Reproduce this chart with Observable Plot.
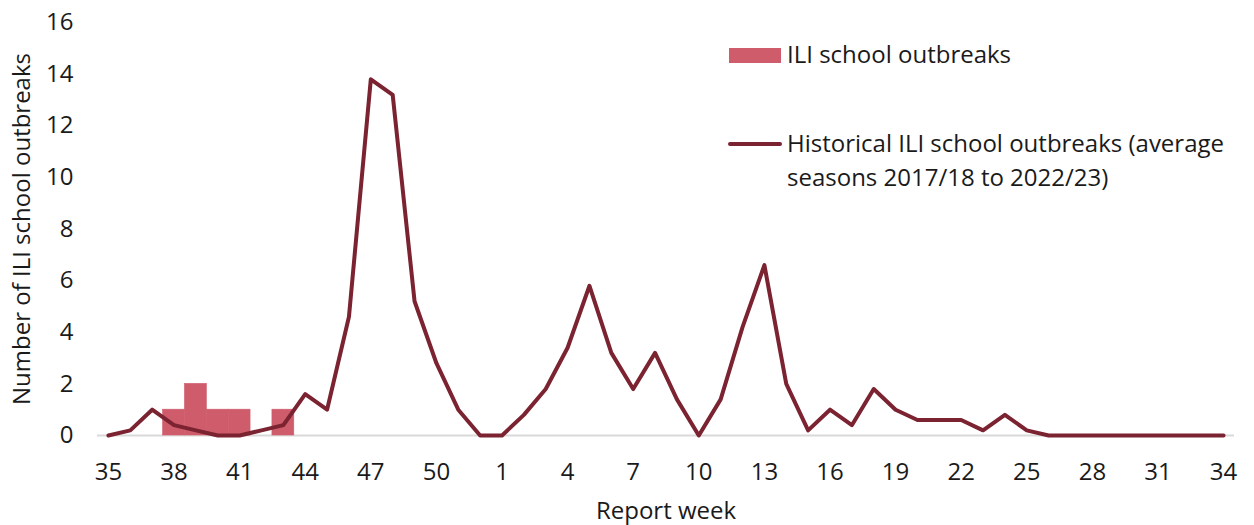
<!DOCTYPE html>
<html><head><meta charset="utf-8">
<script src="https://cdn.jsdelivr.net/npm/d3@7"></script>
<script src="https://cdn.jsdelivr.net/npm/@observablehq/plot@0.6"></script>
<style>
body{margin:0;background:#fff;font-family:"Open Sans",sans-serif;}
#wrap{position:relative;width:1254px;height:525px;}
.lg{position:absolute;font-size:24px;color:#1a1a1a;line-height:34px;white-space:nowrap;}
.sw{position:absolute;}
</style></head><body><div id="wrap"></div>
<script>
const weeks = [35,36,37,38,39,40,41,42,43,44,45,46,47,48,49,50,51,52,
  1,2,3,4,5,6,7,8,9,10,11,12,13,14,15,16,17,18,19,20,21,22,23,24,25,26,27,28,29,30,31,32,33,34];
const outbreaks = [0,0,0,1,2,1,1,0,1,0,0,0,0,0,0,0,0,0,
  0,0,0,0,0,0,0,0,0,0,0,0,0,0,0,0,0,0,0,0,0,0,0,0,0,0,0,0,0,0,0,0,0,0];
const historical = [0,0.2,1.0,0.4,0.2,0,0,0.2,0.4,1.6,1.0,4.6,13.8,13.2,5.2,2.8,1.0,0,
  0,0.8,1.8,3.4,5.8,3.2,1.8,3.2,1.4,0,1.4,4.2,6.6,2.0,0.2,1.0,0.4,1.8,1.0,0.6,0.6,0.6,0.2,0.8,0.2,0,0,0,0,0,0,0,0,0];
const xTickWeeks = [35,38,41,44,47,50,1,4,7,10,13,16,19,22,25,28,31,34];
const yTicks = [0,2,4,6,8,10,12,14,16];
const seriesNames = ["ILI school outbreaks", "Historical ILI school outbreaks (average", "seasons 2017/18 to 2022/23)"];
const barColor = "#cf5c6b", lineColor = "#7b2331";

const data = weeks.map((w, i) => ({i, week: w, outbreaks: outbreaks[i], historical: historical[i]}));
const tickIdx = xTickWeeks.map(w => weeks.indexOf(w));

const chart = Plot.plot({
  width: 1254, height: 525,
  marginLeft: 97, marginRight: 20, marginTop: 22, marginBottom: 90,
  style: {fontFamily: "Open Sans", fontSize: "24px", color: "#1a1a1a", background: "white"},
  x: {domain: [-0.5, 51.5], ticks: tickIdx, tickFormat: i => weeks[i], tickSize: 0, tickPadding: 27, label: null},
  y: {domain: [0, 16], ticks: yTicks, tickSize: 0, tickPadding: 24, label: null},
  marks: [
    Plot.ruleY([0], {stroke: "#d9d9d9", strokeWidth: 2}),
    Plot.rectY(data.filter(d => d.outbreaks > 0), {x1: d => d.i - 0.5, x2: d => d.i + 0.5, y: "outbreaks", fill: barColor, stroke: barColor, strokeWidth: 0.6}),
    Plot.line(data, {x: "i", y: "historical", stroke: lineColor, strokeWidth: 4}),
    Plot.text(["Number of ILI school outbreaks"], {text: d => d, frameAnchor: "left", textAnchor: "middle", dx: -75, rotate: -90, fontSize: 24, fill: "#1a1a1a"}),
    Plot.text(["Report week"], {text: d => d, frameAnchor: "bottom", dy: 83, fontSize: 24, fill: "#1a1a1a"})
  ]
});
const wrap = document.getElementById("wrap");
wrap.appendChild(chart);

function add(html, style, cls) {
  const d = document.createElement("div");
  d.className = cls; d.innerHTML = html; Object.assign(d.style, style); wrap.appendChild(d);
}
add("", {left: "729px", top: "48px", width: "52px", height: "15px", background: barColor}, "sw");
add(seriesNames[0], {left: "787px", top: "37px"}, "lg");
add("", {left: "728px", top: "142px", width: "54px", height: "4px", background: lineColor, borderRadius: "2px"}, "sw");
add(seriesNames[1] + "<br>" + seriesNames[2], {left: "787px", top: "126px"}, "lg");
</script></body></html>
